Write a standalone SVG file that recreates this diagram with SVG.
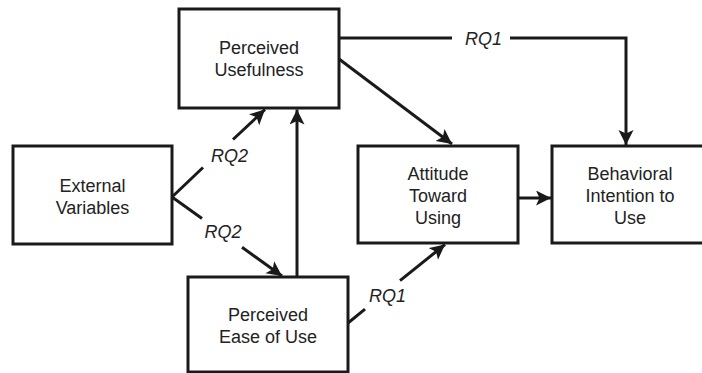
<svg xmlns="http://www.w3.org/2000/svg" width="702" height="373" viewBox="0 0 702 373">
<defs>
<marker id="ah" markerUnits="userSpaceOnUse" markerWidth="16" markerHeight="16" refX="15" refY="7.5" orient="auto">
<path d="M0,0 L15,7.5 L0,15 L3.5,7.5 z" fill="#1a1a1a"/>
</marker>
<style>
.box{fill:#fff;stroke:#1a1a1a;stroke-width:3;}
.t{font-family:"Liberation Sans",Arial,sans-serif;font-size:18px;fill:#222;text-anchor:middle;}
.lbl{font-family:"Liberation Sans",Arial,sans-serif;font-size:18px;font-style:italic;fill:#222;text-anchor:middle;}
.c{fill:none;stroke:#1a1a1a;stroke-width:3;}
</style>
</defs>
<rect width="702" height="373" fill="#fff"/>
<g id="connectors">
<line class="c" x1="172" y1="197" x2="203" y2="167.5"/>
<line class="c" x1="233" y1="139.5" x2="265" y2="109.5" marker-end="url(#ah)"/>
<line class="c" x1="172" y1="197" x2="202" y2="218.5"/>
<line class="c" x1="242" y1="247.3" x2="282" y2="276" marker-end="url(#ah)"/>
<line class="c" x1="297" y1="277" x2="297" y2="109.5" marker-end="url(#ah)"/>
<line class="c" x1="339" y1="38" x2="452" y2="38"/>
<path class="c" d="M510,38 H626 V145" marker-end="url(#ah)"/>
<line class="c" x1="339" y1="59" x2="452" y2="144" marker-end="url(#ah)"/>
<line class="c" x1="518" y1="198" x2="551" y2="198" marker-end="url(#ah)"/>
<line class="c" x1="348" y1="323" x2="365" y2="309.2"/>
<line class="c" x1="400" y1="280.7" x2="445" y2="244.5" marker-end="url(#ah)"/>
<text class="lbl" x="483.5" y="45">RQ1</text>
<text class="lbl" x="229.5" y="162">RQ2</text>
<text class="lbl" x="223" y="238">RQ2</text>
<text class="lbl" x="387.5" y="302">RQ1</text>
</g>
<g id="pu">
<rect class="box" x="179" y="9" width="160" height="99"/>
<text class="t" x="259" y="54">Perceived</text>
<text class="t" x="259" y="76">Usefulness</text>
</g>
<g id="ev">
<rect class="box" x="13" y="146" width="159" height="98"/>
<text class="t" x="92.5" y="192">External</text>
<text class="t" x="92.5" y="214">Variables</text>
</g>
<g id="peu">
<rect class="box" x="188" y="277" width="160" height="95"/>
<text class="t" x="268" y="321">Perceived</text>
<text class="t" x="268" y="343">Ease of Use</text>
</g>
<g id="atu">
<rect class="box" x="358" y="146" width="160" height="97"/>
<text class="t" x="438" y="180">Attitude</text>
<text class="t" x="438" y="202">Toward</text>
<text class="t" x="438" y="224">Using</text>
</g>
<g id="bi">
<rect class="box" x="552" y="146" width="160" height="97"/>
<text class="t" x="630" y="180">Behavioral</text>
<text class="t" x="630" y="202">Intention to</text>
<text class="t" x="630" y="224">Use</text>
</g>
</svg>
